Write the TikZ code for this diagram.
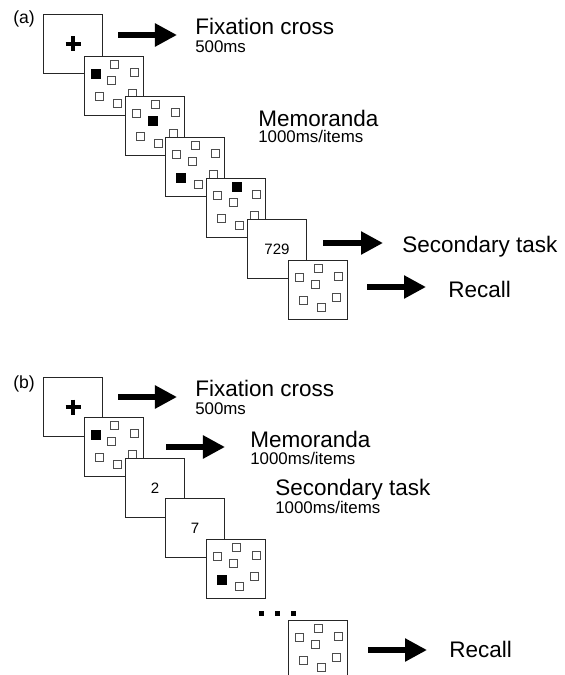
\documentclass[tikz,border=0pt]{standalone}
\usepackage{fontspec}
\setmainfont{Liberation Sans}
\usetikzlibrary{arrows.meta}

% petits carres d'un cadre, #2 = celui qui est plein (0 = aucun)
\newcommand{\grille}[2]{%
    \foreach \px/\py [count=\k] in {11/17,30/8,50/16,27/24,15/40,33/47,48/37}{%
        \ifnum\k=#2
            \draw[plein] ([shift={(\px-4.5,\py-4.5)}]#1.north west) rectangle ++(9,9);
        \else
            \draw[carre] ([shift={(\px-4,\py-4)}]#1.north west) rectangle ++(8,8);
        \fi
    }%
}

\begin{document}
\begin{tikzpicture}[x=0.025cm,y=-0.025cm,
            cadre/.style={draw=black!85, fill=white, line width=0.75pt, minimum size=1.4625cm, inner sep=0pt, outer sep=0pt},
            carre/.style={draw=black!70, line width=0.65pt},
            plein/.style={draw=black, fill=black, line width=0.6pt},
            croix/.style={line width=2.6pt},
            fleche/.style={line width=3.8pt, -{Triangle[length=0.55cm,width=0.55cm]}},
            gros/.style={font=\fontsize{16}{19}\selectfont, inner sep=0pt, anchor=base west},
            petit/.style={font=\fontsize{12}{14}\selectfont, inner sep=0pt, anchor=base west},
            chiffre/.style={font=\fontsize{10.7}{13}\selectfont},
            lettre/.style={font=\fontsize{12.5}{15}\selectfont, inner sep=0pt},
        ]
        \useasboundingbox (0,0) rectangle (564,675);
        % (a)
        \node[lettre] (la) at (24,19) {(a)};
        \node[cadre] (a1) at (73,44) {};
        \draw[croix] (a1.center) +(-7.5,0) -- +(7.5,0) (a1.center) +(0,-7.5) -- +(0,7.5);
        \node[cadre] (a2) at (114,86) {}; \grille{a2}{1}
        \node[cadre] (a3) at (155,126) {}; \grille{a3}{4}
        \node[cadre] (a4) at (195,167) {}; \grille{a4}{5}
        \node[cadre] (a5) at (236,208) {}; \grille{a5}{2}
        \node[cadre, chiffre] (a6) at (277,249) {729};
        \node[cadre] (a7) at (318,290) {}; \grille{a7}{0}

        \node[gros] (afix) at (195,35) {Fixation cross};
        \node[petit] (afixt) at (195,53) {500ms};
        \node[gros] (amem) at (258,127) {Memoranda};
        \node[petit] (amemt) at (258,143) {1000ms/items};
        \node[gros] (asec) at (402,252) {Secondary task};
        \node[gros] (arec) at (448,297) {Recall};

        \coordinate (afa) at (118,35); \coordinate (afb) at (177,35);
        \coordinate (asa) at (323,243); \coordinate (asb) at (383,243);
        \coordinate (ara) at (367,287); \coordinate (arb) at (426,287);
        \draw[fleche] (afa) -- (afb);
        \draw[fleche] (asa) -- (asb);
        \draw[fleche] (ara) -- (arb);

        % (b)
        \node[lettre] (lb) at (24,384) {(b)};
        \node[cadre] (b1) at (73,407) {};
        \draw[croix] (b1.center) +(-7.5,0) -- +(7.5,0) (b1.center) +(0,-7.5) -- +(0,7.5);
        \node[cadre] (b2) at (114,447) {}; \grille{b2}{1}
        \node[cadre, chiffre] (b3) at (155,488) {2};
        \node[cadre, chiffre] (b4) at (195,528) {7};
        \node[cadre] (b5) at (236,569) {}; \grille{b5}{5}
        \foreach \dx in {258.5,274.5,290.5}
            \fill (\dx,610.5) rectangle ++(5,5);
        \node[cadre] (b6) at (318,650) {}; \grille{b6}{0}

        \node[gros] (bfix) at (195,396) {Fixation cross};
        \node[petit] (bfixt) at (195,414) {500ms};
        \node[gros] (bmem) at (250,447) {Memoranda};
        \node[petit] (bmemt) at (250,464) {1000ms/items};
        \node[gros] (bsec) at (275,495) {Secondary task};
        \node[petit] (bsect) at (275,513) {1000ms/items};
        \node[gros] (brec) at (449,657) {Recall};

        \coordinate (bfa) at (118,397); \coordinate (bfb) at (177,397);
        \coordinate (bma) at (166,447); \coordinate (bmb) at (225,447);
        \coordinate (bra) at (368,650); \coordinate (brb) at (427,650);
        \draw[fleche] (bfa) -- (bfb);
        \draw[fleche] (bma) -- (bmb);
        \draw[fleche] (bra) -- (brb);
    \end{tikzpicture}
\end{document}
